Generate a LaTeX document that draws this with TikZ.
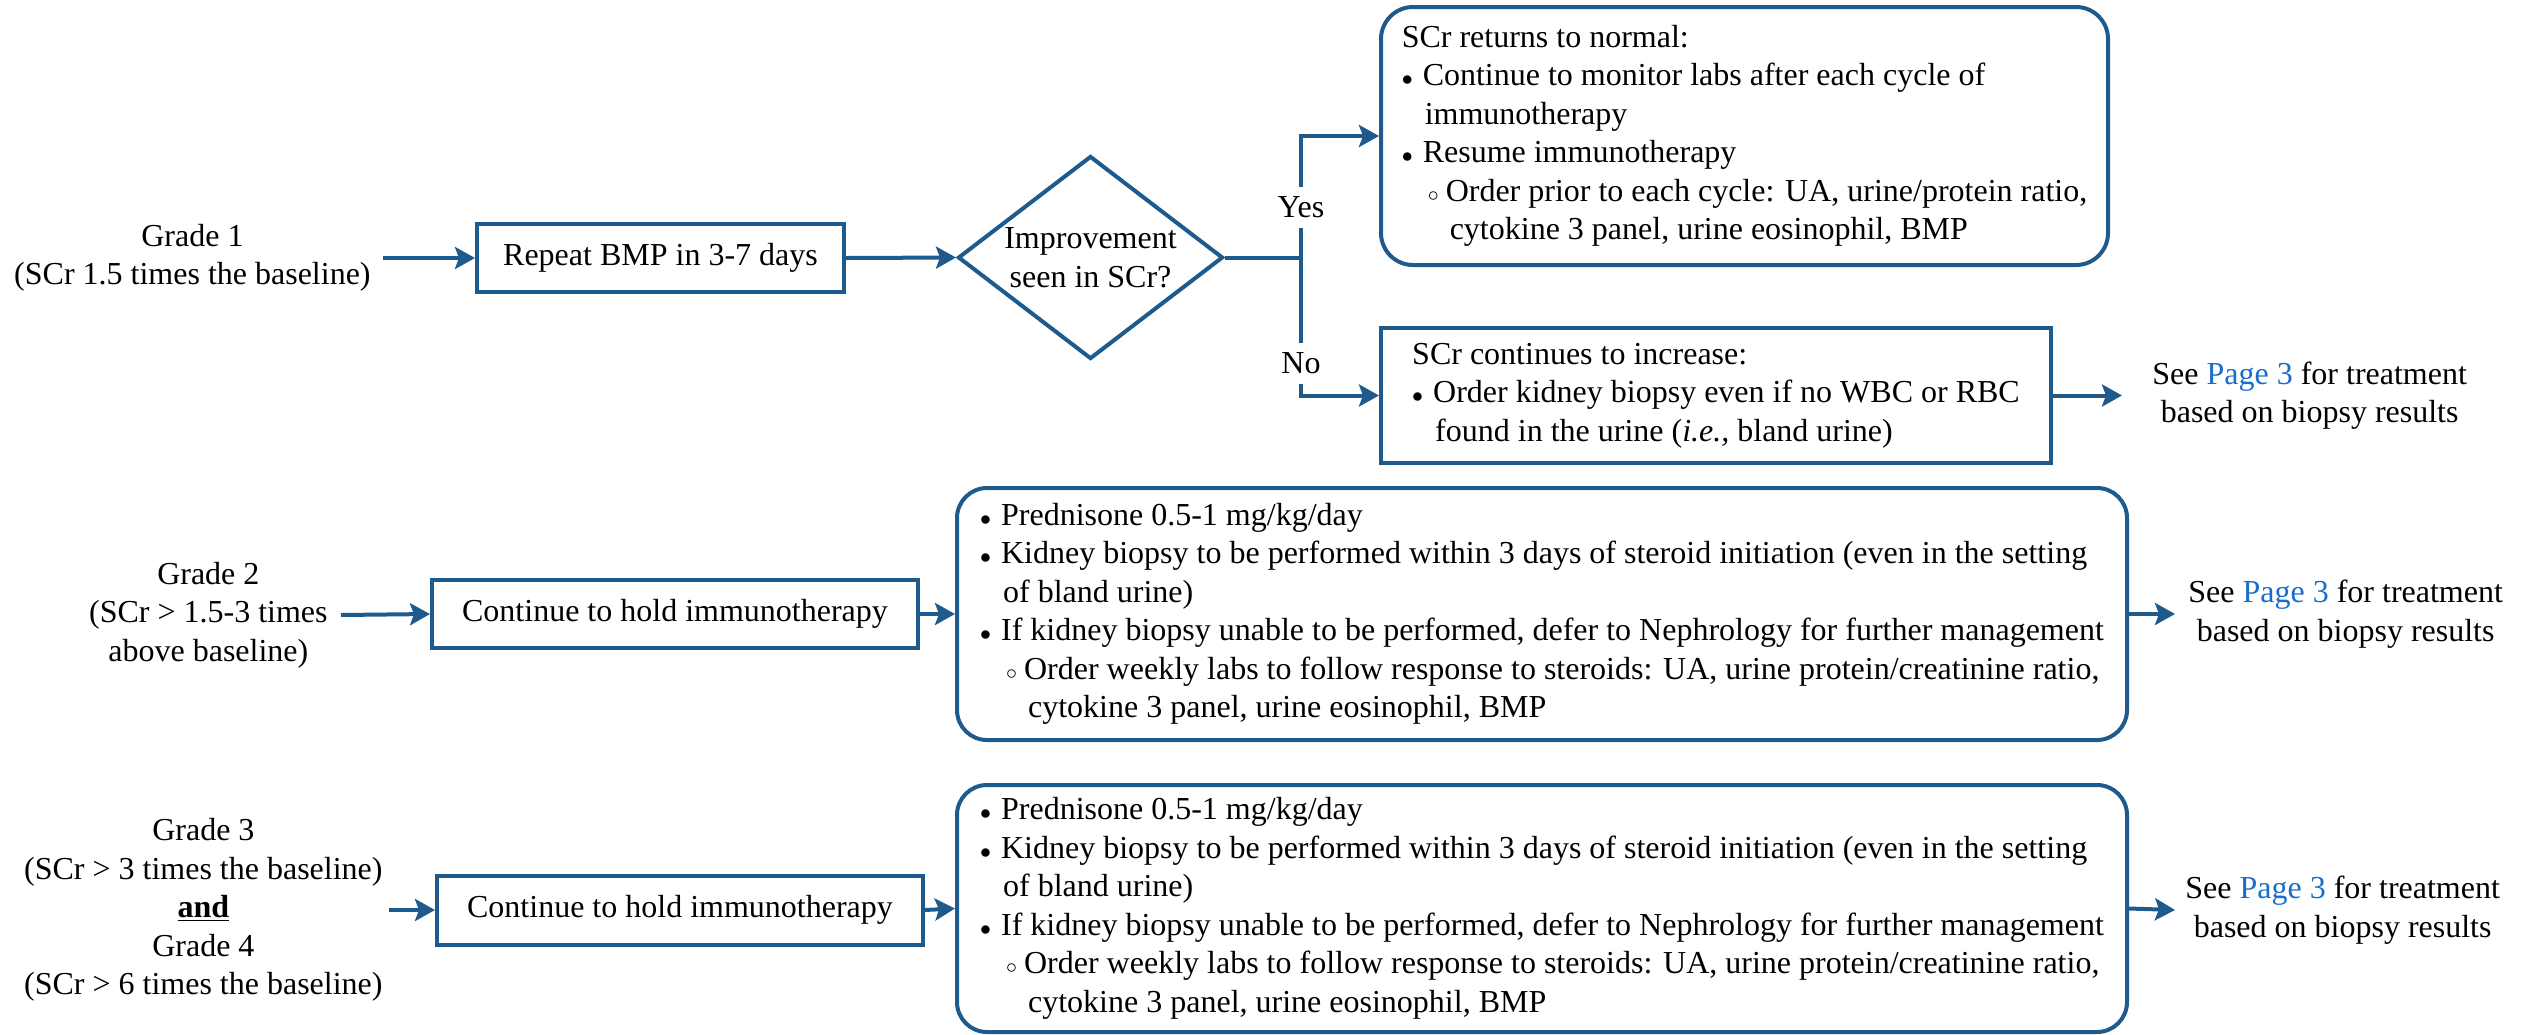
\documentclass[tikz,border=0pt]{standalone}
\usepackage{fontspec}
\setmainfont{Liberation Serif}
\usetikzlibrary{shapes.geometric,arrows.meta}
\definecolor{myblue}{RGB}{31,90,140}
\definecolor{pagecol}{RGB}{25,110,205}
\newcommand{\myB}{\makebox[10.5pt][l]{$\scriptstyle\bullet$}}
\newcommand{\myI}{\hspace*{11.5pt}}
\newcommand{\mySB}{\hspace*{13pt}\makebox[9pt][l]{$\scriptstyle\circ$}}
\newcommand{\mySI}{\hspace*{24pt}}
\newcommand{\pg}{\textcolor{pagecol}{Page 3}}
\begin{document}
\begin{tikzpicture}[x=0.5pt,y=-0.5pt,
  every node/.style={font=\fontsize{16pt}{19.25pt}\selectfont},
  plain/.style={align=center, inner ysep=2pt},
  sqbox/.style={draw=myblue, line width=2pt, align=center, inner sep=4pt},
  rbox/.style={draw=myblue, line width=2pt, rounded corners=15pt, align=left, inner sep=4pt},
  decision/.style={draw=myblue, line width=2pt, diamond, aspect=1.3, inner sep=0pt, align=center},
  conn/.style={draw=myblue, line width=2pt},
  arr/.style={conn, -{Stealth[length=10pt,width=11pt,inset=2pt]}},
  lbl/.style={fill=white, inner xsep=2pt, inner ysep=5pt}]
\useasboundingbox (0,0) rectangle (2538,1034);

% ---------- Row 1 ----------
\node[plain, anchor=east, inner xsep=6pt] (g1) at (383,258) {Grade 1\\(SCr 1.5 times the baseline)};
\node[sqbox, minimum width=183.5pt, minimum height=34pt] (rep) at (660.5,258) {Repeat BMP in 3-7 days};
\node[decision, minimum width=132.5pt, minimum height=101.5pt] (dia) at (1090.5,257.5) {Improvement\\seen in SCr?};
\coordinate (br) at (1301,257.5);
\node[rbox, rounded corners=16pt, minimum width=363.5pt, minimum height=129pt] (top) at (1744.5,136) {SCr returns to normal:\\
\myB Continue to monitor labs after each cycle of\\
\myI immunotherapy\\
\myB Resume immunotherapy\\
\mySB Order prior to each cycle: UA, urine/protein ratio,\\
\mySI cytokine 3 panel, urine eosinophil, BMP};
\node[sqbox, align=left, minimum width=335pt, minimum height=67.5pt] (nob) at (1716,395.5) {SCr continues to increase:\\
\myB Order kidney biopsy even if no WBC or RBC\\
\myI found in the urine (\textit{i.e.,} bland urine)};
\node[plain, anchor=west, inner xsep=15pt] (see1) at (2122,395.5) {See \pg{} for treatment\\based on biopsy results};

\draw[arr] (g1.east) -- (rep.west);
\draw[arr] (rep.east) -- (dia.west);
\draw[conn] (dia.east) -- (br);
\draw[arr] (br) |- node[pos=0.207, lbl] (yes) {Yes} (top.west);
\draw[arr] (br) |- node[pos=0.384, lbl] (no) {No} (nob.west);
\draw[arr] (nob.east) -- (see1.west);

% ---------- Row 2 ----------
\node[plain, anchor=east, inner xsep=6.5pt] (g2) at (341,615) {Grade 2\\(SCr > 1.5-3 times\\above baseline)};
\node[sqbox, minimum width=243pt, minimum height=34pt] (hold2) at (675,614) {Continue to hold immunotherapy};
\node[rbox, minimum width=585pt, minimum height=126pt] (big2) at (1542,614) {\myB Prednisone 0.5-1 mg/kg/day\\
\myB Kidney biopsy to be performed within 3 days of steroid initiation (even in the setting\\
\myI of bland urine)\\
\myB If kidney biopsy unable to be performed, defer to Nephrology for further management\\
\mySB Order weekly labs to follow response to steroids: UA, urine protein/creatinine ratio,\\
\mySI cytokine 3 panel, urine eosinophil, BMP};
\node[plain, anchor=west, inner xsep=6.5pt] (see2) at (2175,614) {See \pg{} for treatment\\based on biopsy results};

\draw[arr] (g2.east) -- (hold2.west);
\draw[arr] (hold2.east) -- (big2.west);
\draw[arr] (big2.east) -- (see2.west);

% ---------- Row 3 ----------
\node[plain, anchor=east, inner xsep=3pt] (g3) at (389,910) {Grade 3\\(SCr > 3 times the baseline)\\\underline{\textbf{and}}\\Grade 4\\(SCr > 6 times the baseline)};
\node[sqbox, minimum width=243pt, minimum height=34.5pt] (hold3) at (680,910) {Continue to hold immunotherapy};
\node[rbox, minimum width=585pt, minimum height=123.5pt] (big3) at (1542,908.5) {\myB Prednisone 0.5-1 mg/kg/day\\
\myB Kidney biopsy to be performed within 3 days of steroid initiation (even in the setting\\
\myI of bland urine)\\
\myB If kidney biopsy unable to be performed, defer to Nephrology for further management\\
\mySB Order weekly labs to follow response to steroids: UA, urine protein/creatinine ratio,\\
\mySI cytokine 3 panel, urine eosinophil, BMP};
\node[plain, anchor=west, inner xsep=5pt] (see3) at (2175,910) {See \pg{} for treatment\\based on biopsy results};

\draw[arr] (g3.east) -- (hold3.west);
\draw[arr] (hold3.east) -- (big3.west);
\draw[arr] (big3.east) -- (see3.west);
\end{tikzpicture}
\end{document}
